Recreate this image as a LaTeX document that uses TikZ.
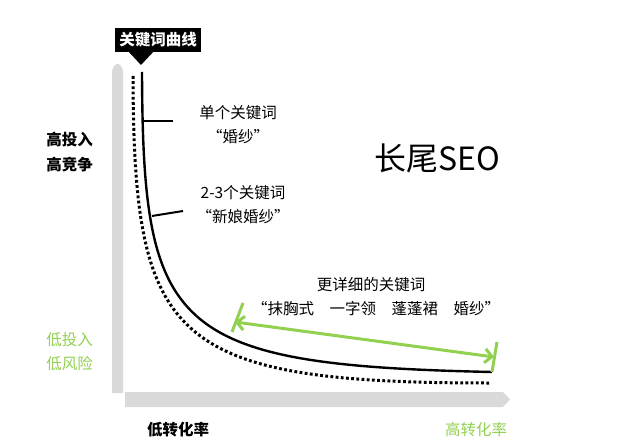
\documentclass[tikz,border=0pt]{standalone}
\usepackage{fontspec}
\setmainfont{Noto Sans CJK SC}
\usetikzlibrary{arrows.meta,positioning}
\definecolor{lime}{RGB}{146,208,80}
\definecolor{axisgray}{RGB}{217,217,217}

\begin{document}
\begin{tikzpicture}[x=1pt,y=-1pt,>=Latex,
 txt/.style={font=\fontsize{15.5}{18}\selectfont,inner sep=0pt},
 bold/.style={font=\fontsize{15.5}{18}\selectfont\bfseries,inner sep=0pt},
 callout/.style={fill=black,text=white,font=\fontsize{15.5}{18}\selectfont\bfseries,inner sep=4pt,minimum height=24pt},
 curve/.style={line width=2.4pt},
 dots/.style={line width=3pt,dash pattern=on 2.8pt off 2.4pt},
 tick/.style={line width=2pt},
 span/.style={draw=lime,line width=3pt},
 sarr/.style={<->,draw=lime,line width=3pt,>={Straight Barb[length=7pt,width=14pt]}}]
\useasboundingbox (0,0) rectangle (631,446);
% axes
\fill[axisgray] (112,393) [rounded corners=4pt]-- (112,68) -- (117.5,62) -- (123,68) [sharp corners]-- (123,393) -- cycle;
\fill[axisgray] (125,392) -- (503,392) -- (510,399.5) -- (503,407) -- (125,407) -- cycle;
% curves
\draw[dots] (133,76) .. controls (134,340) and (168,383) .. (490,383);
\draw[curve] (142,72) .. controls (143,330) and (170,365) .. (492,372);
% callout
\node[callout] (key) at (158,40) {关键词曲线};
\coordinate (ptr) at (141,65);
\fill ([xshift=-12pt]ptr |- key.south) -- ([xshift=12pt]ptr |- key.south) -- (ptr) -- cycle;
% labels
\coordinate (k1a) at (143,121); \coordinate (k1b) at (173,121);
\coordinate (k2a) at (152,216); \coordinate (k2b) at (183,211);
\draw[tick] (k1a) -- (k1b);
\draw[tick] (k2a) -- (k2b);
\node[txt] (one) at (238,113) {单个关键词};
\node[txt,below=9pt of one] (oneq) {“婚纱”};
\node[txt] (two) at (243,193) {2-3个关键词};
\node[txt,below=9pt of two] (twoq) {“新娘婚纱”};
\node[font=\fontsize{32}{34}\selectfont,inner sep=0pt] (seo) at (437,158) {长尾SEO};
\node[txt] (long) at (371,285) {更详细的关键词};
\node[txt,below=9pt of long,xshift=5pt] (longq) {“抹胸式\quad 一字领\quad 蓬蓬裙\quad 婚纱”};
% span of long tail
\coordinate (s1a) at (243,303); \coordinate (s1b) at (232,332);
\coordinate (s2a) at (497,342); \coordinate (s2b) at (492,372);
\coordinate (sl) at (235,322); \coordinate (sr) at (494,357);
\draw[span] (s1a) -- (s1b);
\draw[span] (s2a) -- (s2b);
\draw[sarr] (sl) -- (sr);
% axis texts
\node[bold,anchor=east] (hi1) at (93,140) {高投入};
\node[bold,below=9pt of hi1] (hi2) {高竞争};
\node[txt,text=lime,anchor=east] (lo1) at (93,340) {低投入};
\node[txt,text=lime,below=9pt of lo1] (lo2) {低风险};
\node[bold] (lowc) at (178,430) {低转化率};
\node[txt,text=lime] (highc) at (476,430) {高转化率};
\end{tikzpicture}
\end{document}
